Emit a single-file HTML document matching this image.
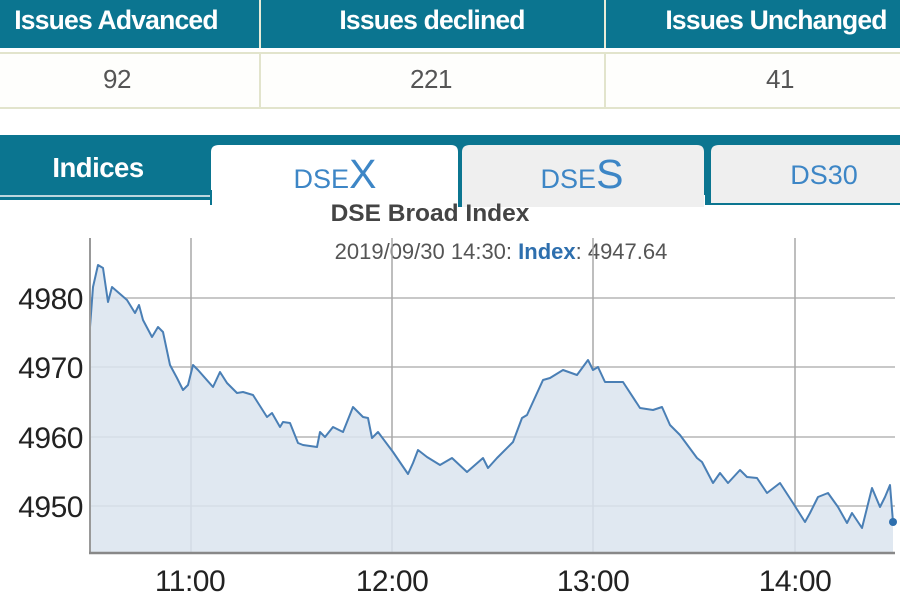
<!DOCTYPE html>
<html><head><meta charset="utf-8"><style>
html,body{margin:0;padding:0;background:#fff;width:900px;height:600px;overflow:hidden}
svg{display:block}
text{font-family:"Liberation Sans",sans-serif}
</style></head><body>
<svg width="900" height="600" viewBox="0 0 900 600" xmlns="http://www.w3.org/2000/svg">
<rect x="0" y="0" width="900" height="48" fill="#0b7590"/>
<rect x="259" y="0" width="2" height="48" fill="#e8ecd8"/>
<rect x="604" y="0" width="2" height="48" fill="#e8ecd8"/>
<rect x="0" y="52" width="900" height="2" fill="#e2e4cc"/>
<rect x="0" y="54" width="900" height="54" fill="#fefefc"/>
<rect x="0" y="107" width="900" height="2" fill="#e2e4cc"/>
<rect x="259" y="52" width="2" height="56" fill="#e2e4cc"/>
<rect x="604" y="52" width="2" height="56" fill="#e2e4cc"/>
<g fill="#fff" font-size="26.5" font-weight="bold" text-anchor="middle" letter-spacing="-0.8">
<text x="116" y="29">Issues Advanced</text>
<text x="432" y="29">Issues declined</text>
<text x="776" y="29">Issues Unchanged</text>
</g>
<g fill="#555" font-size="26" text-anchor="middle" letter-spacing="-0.5">
<text x="117" y="88">92</text>
<text x="431" y="88">221</text>
<text x="780" y="88">41</text>
</g>
<rect x="0" y="135" width="900" height="60" fill="#0b7590"/>
<rect x="0" y="195" width="212" height="2" fill="#bcd6de"/>
<rect x="0" y="197" width="212" height="3" fill="#0b7590"/>
<rect x="705" y="195" width="195" height="10" fill="#0b7590"/>
<path d="M211 207 V152 Q211 145 219 145 H451 Q458 145 458 152 V207 Z" fill="#fff"/>
<path d="M462 207 V152 Q462 145 470 145 H697 Q704 145 704 152 V207 Z" fill="#efefef"/>
<path d="M711 203 V152 Q711 145 719 145 H900 V203 Z" fill="#efefef"/>
<rect x="458" y="145" width="4" height="62" fill="#0b7590"/>
<rect x="210" y="190" width="2" height="15" fill="#0b7590"/>
<text x="98" y="177" fill="#fff" font-size="27.5" font-weight="bold" text-anchor="middle" letter-spacing="-0.5">Indices</text>
<text x="335" y="188" fill="#3d86c6" font-size="27" text-anchor="middle">DSE<tspan font-size="41">X</tspan></text>
<text x="582" y="188" fill="#3d86c6" font-size="27" text-anchor="middle">DSE<tspan font-size="41">S</tspan></text>
<text x="824" y="184" fill="#3d86c6" font-size="27" text-anchor="middle">DS30</text>
<text x="430" y="221" fill="#444" font-size="24.5" font-weight="bold" text-anchor="middle">DSE Broad Index</text>
<text x="501" y="259" fill="#555" font-size="22" text-anchor="middle">2019/09/30 14:30: <tspan fill="#2e6fae" font-weight="bold">Index</tspan>: 4947.64</text>
<g stroke="#c8c8c8" stroke-width="2">
<line x1="90" y1="298" x2="895" y2="298"/>
<line x1="90" y1="367" x2="895" y2="367"/>
<line x1="90" y1="437" x2="895" y2="437"/>
<line x1="90" y1="506" x2="895" y2="506"/>
</g>
<g stroke="#a8a8a8" stroke-width="1.5">
<line x1="191" y1="238" x2="191" y2="553"/>
<line x1="392" y1="238" x2="392" y2="553"/>
<line x1="593" y1="238" x2="593" y2="553"/>
<line x1="795" y1="238" x2="795" y2="553"/>
</g>
<path fill="#dbe4ef" fill-opacity="0.85" d="M90 553 L90 327 L93 287 L98 265 L103 268 L108 302 L112 287 L127 300 L135 313 L139 305 L143 320 L152 337 L158 327 L163 332 L170 365 L177 378 L183 390 L188 385 L193 365 L198 370 L213 387 L220 372 L227 383 L237 393 L243 392 L253 395 L267 417 L272 413 L280 427 L283 422 L290 423 L298 443 L303 445 L317 447 L320 432 L325 437 L333 427 L343 432 L353 407 L363 417 L368 418 L372 438 L378 432 L393 452 L408 474 L413 463 L418 450 L427 457 L440 465 L452 458 L467 472 L483 458 L488 468 L497 458 L513 442 L522 418 L527 415 L543 380 L550 378 L563 370 L577 375 L588 360 L593 370 L598 367 L605 382 L623 382 L640 408 L653 410 L662 407 L670 425 L680 435 L697 458 L702 462 L713 483 L720 473 L728 483 L740 470 L747 477 L757 478 L767 493 L780 483 L793 503 L805 522 L810 513 L818 497 L828 493 L838 507 L847 523 L852 513 L862 528 L872 488 L880 507 L885 497 L890 485 L893 522 L893 553 Z"/>
<path fill="none" stroke="#4a7fb5" stroke-width="2" stroke-linejoin="round" d="M90 327 L93 287 L98 265 L103 268 L108 302 L112 287 L127 300 L135 313 L139 305 L143 320 L152 337 L158 327 L163 332 L170 365 L177 378 L183 390 L188 385 L193 365 L198 370 L213 387 L220 372 L227 383 L237 393 L243 392 L253 395 L267 417 L272 413 L280 427 L283 422 L290 423 L298 443 L303 445 L317 447 L320 432 L325 437 L333 427 L343 432 L353 407 L363 417 L368 418 L372 438 L378 432 L393 452 L408 474 L413 463 L418 450 L427 457 L440 465 L452 458 L467 472 L483 458 L488 468 L497 458 L513 442 L522 418 L527 415 L543 380 L550 378 L563 370 L577 375 L588 360 L593 370 L598 367 L605 382 L623 382 L640 408 L653 410 L662 407 L670 425 L680 435 L697 458 L702 462 L713 483 L720 473 L728 483 L740 470 L747 477 L757 478 L767 493 L780 483 L793 503 L805 522 L810 513 L818 497 L828 493 L838 507 L847 523 L852 513 L862 528 L872 488 L880 507 L885 497 L890 485 L893 522"/>
<circle cx="893" cy="522" r="4" fill="#2e6fae"/>
<line x1="90" y1="238" x2="90" y2="554" stroke="#999" stroke-width="2"/>
<line x1="89" y1="553" x2="895" y2="553" stroke="#888" stroke-width="2.5"/>
<g fill="#222" font-size="30" text-anchor="end" letter-spacing="-0.5">
<text x="83" y="309">4980</text>
<text x="83" y="378">4970</text>
<text x="83" y="448">4960</text>
<text x="83" y="517">4950</text>
</g>
<g fill="#222" font-size="30" text-anchor="middle" letter-spacing="-0.5">
<text x="190" y="591">11:00</text>
<text x="392" y="591">12:00</text>
<text x="593" y="591">13:00</text>
<text x="795" y="591">14:00</text>
</g>
</svg>
</body></html>
